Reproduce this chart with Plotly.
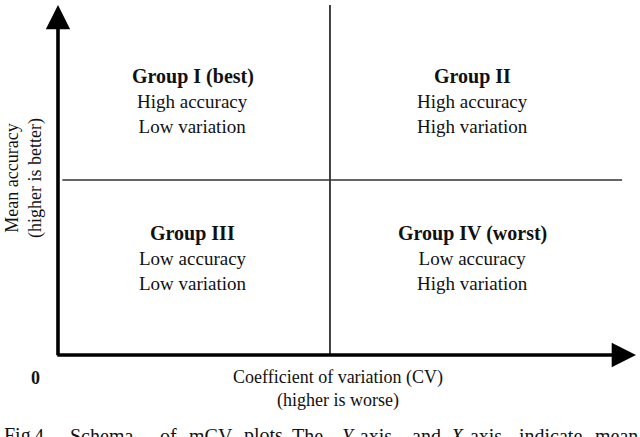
import plotly.graph_objects as go

# Quadrant groups of the mCV schema
groups = ['Group I (best)', 'Group II', 'Group III', 'Group IV (worst)']
accuracy = ['High accuracy', 'High accuracy', 'Low accuracy', 'Low accuracy']
variation = ['Low variation', 'High variation', 'Low variation', 'High variation']

x_title = 'Coefficient of variation (CV)<br>(higher is worse)'
y_title = 'Mean accuracy<br>(higher is better)'
caption_words = ['Fig', '4.', 'Schema', 'of', 'mCV', 'plots.', 'The',
                 '<i>Y</i>-axis', 'and', '<i>X</i>-axis', 'indicate', 'mean']

# layout helpers (axis units: origin 0, quadrant split at 0.5)
level_x = {'Low variation': 0.248, 'High variation': 0.762}
level_y = {'High accuracy': 0.797, 'Low accuracy': 0.346}
caption_x = [-0.103, -0.048, 0.018, 0.184, 0.237, 0.338, 0.426,
             0.518, 0.647, 0.717, 0.844, 0.983]

serif = 'Liberation Serif, Times New Roman, serif'
ink = '#111'
fig = go.Figure()

# invisible trace so the axes exist
fig.add_trace(go.Scatter(x=[0, 1], y=[0, 1], mode='markers',
                         marker=dict(opacity=0), hoverinfo='skip', showlegend=False))

for g, a, v in zip(groups, accuracy, variation):
    cx, cy = level_x[v], level_y[a]
    fig.add_annotation(x=cx, y=cy, text=f'<b>{g}</b>', showarrow=False,
                       font=dict(size=20, family=serif, color=ink))
    fig.add_annotation(x=cx, y=cy - 0.107, text=f'{a}<br>{v}', showarrow=False,
                       font=dict(size=19, family=serif, color=ink))

# quadrant dividers
fig.add_shape(type='line', x0=0.5, x1=0.5, y0=0, y1=1.0,
              line=dict(color='#222', width=1.7))
fig.add_shape(type='line', x0=0.008, x1=1.037, y0=0.5, y1=0.5,
              line=dict(color='#333', width=1.7))

# axes with arrowheads
fig.add_annotation(x=0, y=1.0, ax=0, ay=-0.005, axref='x', ayref='y',
                   showarrow=True, arrowhead=2, arrowsize=1.35, arrowwidth=3.6,
                   arrowcolor='black', text='')
fig.add_annotation(x=1.0625, y=0, ax=-0.004, ay=0, axref='x', ayref='y',
                   showarrow=True, arrowhead=2, arrowsize=1.35, arrowwidth=3.6,
                   arrowcolor='black', text='')

fig.add_annotation(x=-0.042, y=-0.066, text='<b>0</b>', showarrow=False,
                   font=dict(size=18, family=serif, color=ink))
fig.add_annotation(x=0.515, y=-0.097, text=x_title, showarrow=False,
                   font=dict(size=18, family=serif, color=ink))
fig.add_annotation(x=-0.0625, y=0.506, text=y_title, showarrow=False, textangle=-90,
                   font=dict(size=18, family=serif, color=ink))
# caption (cut at the bottom edge, as in the source)
for w, wx in zip(caption_words, caption_x):
    fig.add_annotation(x=wx, y=-0.231, text=w, showarrow=False, xanchor='left',
                       font=dict(size=20, family=serif, color=ink))

fig.update_xaxes(range=[-0.1066, 1.0699], visible=False, fixedrange=True)
fig.update_yaxes(range=[-0.2343, 1.0143], visible=False, fixedrange=True)
fig.update_layout(width=640, height=437, margin=dict(l=0, r=0, t=0, b=0),
                  plot_bgcolor='white', paper_bgcolor='white', showlegend=False)

fig.write_html('out.html', config={'displayModeBar': False},
               post_script="document.body.style.margin='0';")
